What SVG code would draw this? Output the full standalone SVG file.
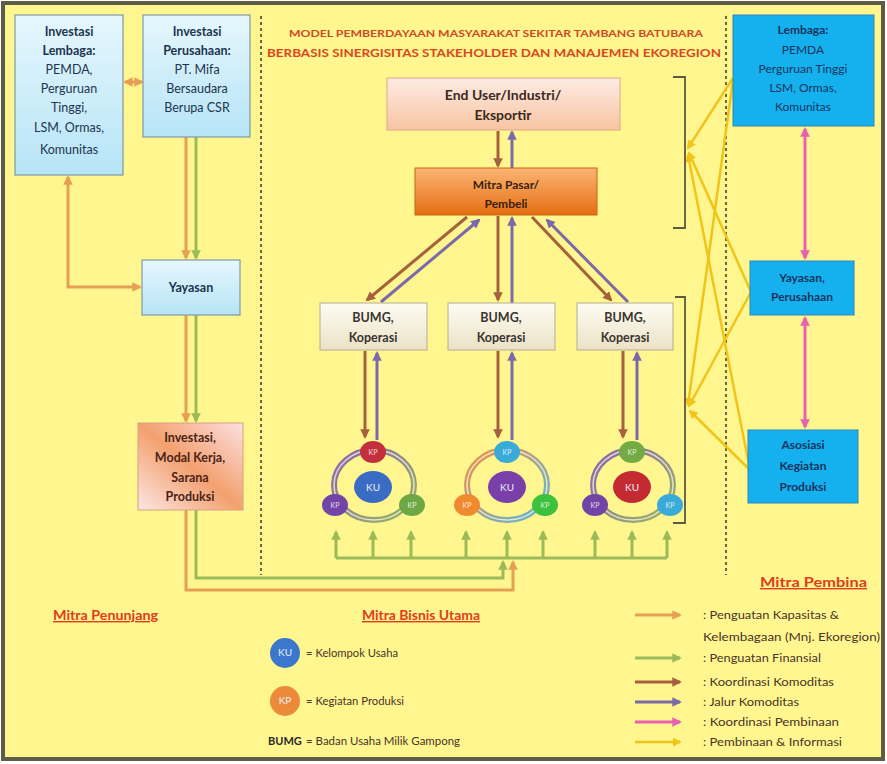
<svg xmlns="http://www.w3.org/2000/svg" width="887" height="764" viewBox="0 0 887 764">
<style>
  text{font-family:Lato,"Open Sans","Liberation Sans",sans-serif;}
  .b{font-weight:bold;}
  .lb{fill:#1c3550;font-size:12.5px;text-anchor:middle;}
  .rb{fill:#16335e;font-size:12px;text-anchor:middle;}
  .ctr{text-anchor:middle;}
  .ln{fill:none;stroke-width:3;}
  .o{stroke:#e6a055;} .g{stroke:#9bbb59;} .br{stroke:#a5603c;} .pu{stroke:#7b6aa8;} .pk{stroke:#e860b0;} .y{stroke:#f0c419;stroke-width:2.5;}
  .dash{fill:none;stroke:#3a3a2a;stroke-width:1.5;stroke-dasharray:3 3;}
  .brk{fill:none;stroke:#5b5a3c;stroke-width:1.8;}
  .sec{fill:#e23c1c;font-weight:bold;font-size:14px;text-decoration:underline;}
  .leg{fill:#4a3426;font-size:11.5px;}
  .kp{fill:#fff;font-size:7px;text-anchor:middle;opacity:.8;}
  .ku{fill:#e8eef8;font-size:10px;text-anchor:middle;}
</style>
<defs>
  <linearGradient id="gLb" x1="0" y1="0" x2="0" y2="1"><stop offset="0" stop-color="#e6f7fd"/><stop offset="1" stop-color="#b6e4f6"/></linearGradient>
  <linearGradient id="gEu" x1="0" y1="0" x2="0" y2="1"><stop offset="0" stop-color="#fdebe3"/><stop offset="1" stop-color="#f8c4a2"/></linearGradient>
  <linearGradient id="gMp" x1="0" y1="0" x2="0" y2="1"><stop offset="0" stop-color="#fbb574"/><stop offset="1" stop-color="#e56e12"/></linearGradient>
  <linearGradient id="gInv" x1="1" y1="0" x2="0" y2="1"><stop offset="0" stop-color="#fce0e2"/><stop offset="0.5" stop-color="#f3a06e"/><stop offset="1" stop-color="#fde6e4"/></linearGradient>
  <linearGradient id="gBu" x1="0" y1="0" x2="0" y2="1"><stop offset="0" stop-color="#fefcf3"/><stop offset="1" stop-color="#ebe2c6"/></linearGradient>
  <linearGradient id="gR1" x1="0" y1="0" x2="1" y2="1"><stop offset="0" stop-color="#8b62b0"/><stop offset="1" stop-color="#9ab860"/></linearGradient>
  <linearGradient id="gR2" x1="0" y1="0" x2="1" y2="1"><stop offset="0" stop-color="#f09040"/><stop offset="1" stop-color="#5ab8d8"/></linearGradient>
  <linearGradient id="gR3" x1="0" y1="0" x2="1" y2="1"><stop offset="0" stop-color="#8b62b0"/><stop offset="1" stop-color="#9ab860"/></linearGradient>
  <marker id="mo" viewBox="0 0 10 10" refX="8" refY="5" markerWidth="3.2" markerHeight="3.2" orient="auto-start-reverse"><path d="M0,0 L10,5 L0,10 z" fill="#e6a055"/></marker>
  <marker id="mg" viewBox="0 0 10 10" refX="8" refY="5" markerWidth="3.2" markerHeight="3.2" orient="auto-start-reverse"><path d="M0,0 L10,5 L0,10 z" fill="#9bbb59"/></marker>
  <marker id="mb" viewBox="0 0 10 10" refX="8" refY="5" markerWidth="3.2" markerHeight="3.2" orient="auto-start-reverse"><path d="M0,0 L10,5 L0,10 z" fill="#a5603c"/></marker>
  <marker id="mp" viewBox="0 0 10 10" refX="8" refY="5" markerWidth="3.2" markerHeight="3.2" orient="auto-start-reverse"><path d="M0,0 L10,5 L0,10 z" fill="#7b6aa8"/></marker>
  <marker id="mk" viewBox="0 0 10 10" refX="8" refY="5" markerWidth="3.2" markerHeight="3.2" orient="auto-start-reverse"><path d="M0,0 L10,5 L0,10 z" fill="#e860b0"/></marker>
  <marker id="my" viewBox="0 0 10 10" refX="8" refY="5" markerWidth="3.6" markerHeight="3.6" orient="auto-start-reverse"><path d="M0,0 L10,5 L0,10 z" fill="#f0c419"/></marker>
</defs>

<rect x="3" y="3" width="880" height="756" fill="#fff690" stroke="#5e5e48" stroke-width="4"/>

<!-- dashed separators -->
<line class="dash" x1="261" y1="16" x2="261" y2="575"/>
<line class="dash" x1="726" y1="16" x2="726" y2="575"/>

<!-- title -->
<text class="b ctr" x="496" y="37" font-size="10" fill="#cf4a1e" textLength="414" lengthAdjust="spacingAndGlyphs">MODEL PEMBERDAYAAN MASYARAKAT SEKITAR TAMBANG BATUBARA</text>
<text class="b ctr" x="494" y="57" font-size="11" fill="#d9471d" textLength="454" lengthAdjust="spacingAndGlyphs">BERBASIS SINERGISITAS STAKEHOLDER DAN MANAJEMEN EKOREGION</text>

<!-- connectors -->
<g id="connectors">
  <line class="ln o" x1="125" y1="82" x2="142" y2="82" marker-start="url(#mo)" marker-end="url(#mo)"/>
  <path class="ln o" d="M68,177 V287 H140" marker-start="url(#mo)" marker-end="url(#mo)"/>
  <path class="ln o" d="M186,137 V258" marker-end="url(#mo)"/>
  <path class="ln g" d="M196,137 V258" marker-end="url(#mg)"/>
  <path class="ln o" d="M186,315 V421" marker-end="url(#mo)"/>
  <path class="ln g" d="M196,315 V421" marker-end="url(#mg)"/>
  <path class="ln g" d="M196,510 V578 H503 V562" marker-end="url(#mg)"/>
  <path class="ln o" d="M186,510 V590 H513 V562" marker-end="url(#mo)"/>
  <path class="ln g" d="M336,558 H667"/>
  <g class="ln g" marker-end="url(#mg)">
    <path d="M336,558 V532"/><path d="M373,558 V532"/><path d="M411,558 V532"/>
    <path d="M466,558 V532"/><path d="M507,558 V532"/><path d="M543,558 V532"/>
    <path d="M595,558 V532"/><path d="M632,558 V532"/><path d="M667,558 V532"/>
  </g>
  <path class="ln br" d="M498,131 V166" marker-end="url(#mb)"/>
  <path class="ln pu" d="M512,168 V132" marker-end="url(#mp)"/>
  <path class="ln br" d="M467,217 L367,300" marker-end="url(#mb)"/>
  <path class="ln pu" d="M381,302 L479,220" marker-end="url(#mp)"/>
  <path class="ln br" d="M498,216 V300" marker-end="url(#mb)"/>
  <path class="ln pu" d="M512,303 V218" marker-end="url(#mp)"/>
  <path class="ln br" d="M532,217 L611,300" marker-end="url(#mb)"/>
  <path class="ln pu" d="M628,302 L547,220" marker-end="url(#mp)"/>
  <path class="ln br" d="M365,351 V437" marker-end="url(#mb)"/>
  <path class="ln pu" d="M377,440 V353" marker-end="url(#mp)"/>
  <path class="ln br" d="M498,351 V437" marker-end="url(#mb)"/>
  <path class="ln pu" d="M512,440 V353" marker-end="url(#mp)"/>
  <path class="ln br" d="M623,351 V437" marker-end="url(#mb)"/>
  <path class="ln pu" d="M637,440 V353" marker-end="url(#mp)"/>
  <line class="ln pk" x1="805" y1="129" x2="805" y2="258" marker-start="url(#mk)" marker-end="url(#mk)"/>
  <line class="ln pk" x1="805" y1="318" x2="805" y2="427" marker-start="url(#mk)" marker-end="url(#mk)"/>
  <g class="ln y" marker-end="url(#my)">
    <path d="M733,78 L688,148"/>
    <path d="M733,80 L688,405"/>
    <path d="M751,292 L689,153"/>
    <path d="M751,292 L689,406"/>
    <path d="M750,470 L688,155"/>
    <path d="M750,470 L690,411"/>
  </g>
  <path class="brk" d="M673,77 H685 V228 H673"/>
  <path class="brk" d="M675,297 H685 V523 H673"/>
</g>

<!-- left column nodes -->
<g id="invLembaga">
  <rect x="15" y="15" width="108" height="160" fill="url(#gLb)" stroke="#7d9aa6" stroke-width="1.2"/>
  <text class="lb b" x="69" y="36">Investasi</text>
  <text class="lb b" x="69" y="55">Lembaga:</text>
  <text class="lb" x="69" y="74">PEMDA,</text>
  <text class="lb" x="69" y="93">Perguruan</text>
  <text class="lb" x="69" y="112">Tinggi,</text>
  <text class="lb" x="69" y="132">LSM, Ormas,</text>
  <text class="lb" x="69" y="154">Komunitas</text>
</g>
<g id="invPerusahaan">
  <rect x="143" y="15" width="107" height="122" fill="url(#gLb)" stroke="#7d9aa6" stroke-width="1.2"/>
  <text class="lb b" x="197" y="36">Investasi</text>
  <text class="lb b" x="197" y="55">Perusahaan:</text>
  <text class="lb" x="197" y="74">PT. Mifa</text>
  <text class="lb" x="197" y="93">Bersaudara</text>
  <text class="lb" x="197" y="112">Berupa CSR</text>
</g>
<g id="yayasanL">
  <rect x="142" y="260" width="98" height="55" fill="url(#gLb)" stroke="#7d9aa6" stroke-width="1.2"/>
  <text class="lb b" x="191" y="292">Yayasan</text>
</g>
<g id="investasiModal">
  <rect x="138" y="423" width="105" height="87" fill="url(#gInv)" stroke="#d8a080" stroke-width="1"/>
  <text class="b ctr" x="190" y="442" font-size="12.5" fill="#4a2418">Investasi,</text>
  <text class="b ctr" x="190" y="462" font-size="12.5" fill="#4a2418">Modal Kerja,</text>
  <text class="b ctr" x="190" y="482" font-size="12.5" fill="#4a2418">Sarana</text>
  <text class="b ctr" x="190" y="501" font-size="12.5" fill="#4a2418">Produksi</text>
</g>

<!-- center nodes -->
<g id="endUser">
  <rect x="387" y="78" width="233" height="52" fill="url(#gEu)" stroke="#e0a886" stroke-width="1"/>
  <text class="b ctr" x="503" y="100" font-size="14" fill="#3a2a22">End User/Industri/</text>
  <text class="b ctr" x="503" y="120" font-size="14" fill="#3a2a22">Eksportir</text>
</g>
<g id="mitraPasar">
  <rect x="415" y="168" width="182" height="47" fill="url(#gMp)" stroke="#c8650f" stroke-width="1"/>
  <text class="b ctr" x="506" y="189" font-size="12" fill="#3a2010">Mitra Pasar/</text>
  <text class="b ctr" x="506" y="208" font-size="12" fill="#3a2010">Pembeli</text>
</g>
<g id="bumg1">
  <rect x="320" y="303" width="107" height="47" fill="url(#gBu)" stroke="#b3ab92" stroke-width="1"/>
  <text class="b ctr" x="373" y="322" font-size="12.5" fill="#3a3530">BUMG,</text>
  <text class="b ctr" x="373" y="342" font-size="12.5" fill="#3a3530">Koperasi</text>
</g>
<g id="bumg2">
  <rect x="448" y="303" width="107" height="47" fill="url(#gBu)" stroke="#b3ab92" stroke-width="1"/>
  <text class="b ctr" x="501" y="322" font-size="12.5" fill="#3a3530">BUMG,</text>
  <text class="b ctr" x="501" y="342" font-size="12.5" fill="#3a3530">Koperasi</text>
</g>
<g id="bumg3">
  <rect x="577" y="303" width="96" height="47" fill="url(#gBu)" stroke="#b3ab92" stroke-width="1"/>
  <text class="b ctr" x="625" y="322" font-size="12.5" fill="#3a3530">BUMG,</text>
  <text class="b ctr" x="625" y="342" font-size="12.5" fill="#3a3530">Koperasi</text>
</g>

<!-- clusters -->
<g id="cluster1">
  <ellipse cx="374" cy="485" rx="40" ry="35" fill="none" stroke="url(#gR1)" stroke-width="6"/>
  <ellipse cx="374" cy="485" rx="40" ry="35" fill="none" stroke="#fffbe0" stroke-width="1.5" opacity=".75"/>
  <ellipse cx="373" cy="487" rx="19" ry="16" fill="#3b6cc4"/>
  <text class="ku" x="373" y="491">KU</text>
  <ellipse cx="373" cy="452" rx="13" ry="11" fill="#c2303e"/><text class="kp" x="373" y="455">KP</text>
  <ellipse cx="335" cy="505" rx="13" ry="11" fill="#7244a6"/><text class="kp" x="335" y="508">KP</text>
  <ellipse cx="412" cy="505" rx="13" ry="11" fill="#6ea844"/><text class="kp" x="412" y="508">KP</text>
</g>
<g id="cluster2">
  <ellipse cx="507" cy="485" rx="40" ry="35" fill="none" stroke="url(#gR2)" stroke-width="6"/>
  <ellipse cx="507" cy="485" rx="40" ry="35" fill="none" stroke="#fffbe0" stroke-width="1.5" opacity=".75"/>
  <ellipse cx="507" cy="487" rx="19" ry="16" fill="#7a40aa"/>
  <text class="ku" x="507" y="491">KU</text>
  <ellipse cx="507" cy="452" rx="13" ry="11" fill="#3aaad8"/><text class="kp" x="507" y="455">KP</text>
  <ellipse cx="467" cy="505" rx="13" ry="11" fill="#f08a30"/><text class="kp" x="467" y="508">KP</text>
  <ellipse cx="545" cy="505" rx="13" ry="11" fill="#3cc23c"/><text class="kp" x="545" y="508">KP</text>
</g>
<g id="cluster3">
  <ellipse cx="633" cy="485" rx="40" ry="35" fill="none" stroke="url(#gR3)" stroke-width="6"/>
  <ellipse cx="633" cy="485" rx="40" ry="35" fill="none" stroke="#fffbe0" stroke-width="1.5" opacity=".75"/>
  <ellipse cx="632" cy="487" rx="19" ry="16" fill="#c42a32"/>
  <text class="ku" x="632" y="491">KU</text>
  <ellipse cx="632" cy="452" rx="13" ry="11" fill="#72aa44"/><text class="kp" x="632" y="455">KP</text>
  <ellipse cx="595" cy="505" rx="13" ry="11" fill="#7244a6"/><text class="kp" x="595" y="508">KP</text>
  <ellipse cx="670" cy="505" rx="13" ry="11" fill="#3aaad8"/><text class="kp" x="670" y="508">KP</text>
</g>

<!-- right column nodes -->
<g id="lembagaR">
  <rect x="733" y="15" width="141" height="111" fill="#14b1ee" stroke="#2c86b8" stroke-width="1"/>
  <text class="rb b" x="803" y="34">Lembaga:</text>
  <text class="rb" x="803" y="54">PEMDA</text>
  <text class="rb" x="803" y="73">Perguruan Tinggi</text>
  <text class="rb" x="803" y="92">LSM, Ormas,</text>
  <text class="rb" x="803" y="111">Komunitas</text>
</g>
<g id="yayasanR">
  <rect x="750" y="261" width="104" height="54" fill="#14b1ee" stroke="#2c86b8" stroke-width="1"/>
  <text class="rb b" x="802" y="282">Yayasan,</text>
  <text class="rb b" x="802" y="301">Perusahaan</text>
</g>
<g id="asosiasi">
  <rect x="748" y="430" width="110" height="73" fill="#14b1ee" stroke="#2c86b8" stroke-width="1"/>
  <text class="rb b" x="803" y="449">Asosiasi</text>
  <text class="rb b" x="803" y="470">Kegiatan</text>
  <text class="rb b" x="803" y="491">Produksi</text>
</g>

<!-- section labels -->
<text class="sec" x="53" y="620" textLength="105" lengthAdjust="spacingAndGlyphs">Mitra Penunjang</text>
<text class="sec" x="362" y="620" textLength="118" lengthAdjust="spacingAndGlyphs">Mitra Bisnis Utama</text>
<text class="sec" x="760" y="587" textLength="107" lengthAdjust="spacingAndGlyphs">Mitra Pembina</text>

<!-- legend left -->
<g id="legendLeft">
  <circle cx="285" cy="653" r="15" fill="#3b78cc"/><text class="ku" x="285" y="656" font-size="8">KU</text>
  <text class="leg" x="306" y="657" textLength="92" lengthAdjust="spacingAndGlyphs">= Kelompok Usaha</text>
  <circle cx="285" cy="701" r="15" fill="#ec8a3a"/><text class="ku" x="285" y="704" font-size="8">KP</text>
  <text class="leg" x="306" y="705" textLength="98" lengthAdjust="spacingAndGlyphs">= Kegiatan Produksi</text>
  <text class="b" x="268" y="745" font-size="11" fill="#2a2a2a">BUMG</text>
  <text class="leg" x="306" y="745" textLength="154" lengthAdjust="spacingAndGlyphs">= Badan Usaha Milik Gampong</text>
</g>

<!-- legend right -->
<g id="legendRight">
  <line class="ln o" x1="635" y1="615" x2="680" y2="615" marker-end="url(#mo)"/>
  <line class="ln g" x1="635" y1="658" x2="680" y2="658" marker-end="url(#mg)"/>
  <line class="ln br" x1="635" y1="682" x2="680" y2="682" marker-end="url(#mb)"/>
  <line class="ln pu" x1="635" y1="702" x2="680" y2="702" marker-end="url(#mp)"/>
  <line class="ln pk" x1="635" y1="722" x2="680" y2="722" marker-end="url(#mk)"/>
  <line class="ln y" x1="635" y1="742" x2="680" y2="742" stroke-width="3" marker-end="url(#my)"/>
  <text class="leg" x="703" y="619" textLength="136" lengthAdjust="spacingAndGlyphs">: Penguatan Kapasitas &amp;</text>
  <text class="leg" x="703" y="641" textLength="177" lengthAdjust="spacingAndGlyphs">Kelembagaan (Mnj. Ekoregion)</text>
  <text class="leg" x="703" y="662" textLength="118" lengthAdjust="spacingAndGlyphs">: Penguatan Finansial</text>
  <text class="leg" x="703" y="686" textLength="131" lengthAdjust="spacingAndGlyphs">: Koordinasi Komoditas</text>
  <text class="leg" x="703" y="706" textLength="96" lengthAdjust="spacingAndGlyphs">: Jalur Komoditas</text>
  <text class="leg" x="703" y="726" textLength="136" lengthAdjust="spacingAndGlyphs">: Koordinasi Pembinaan</text>
  <text class="leg" x="703" y="746" textLength="139" lengthAdjust="spacingAndGlyphs">: Pembinaan &amp; Informasi</text>
</g>
</svg>
